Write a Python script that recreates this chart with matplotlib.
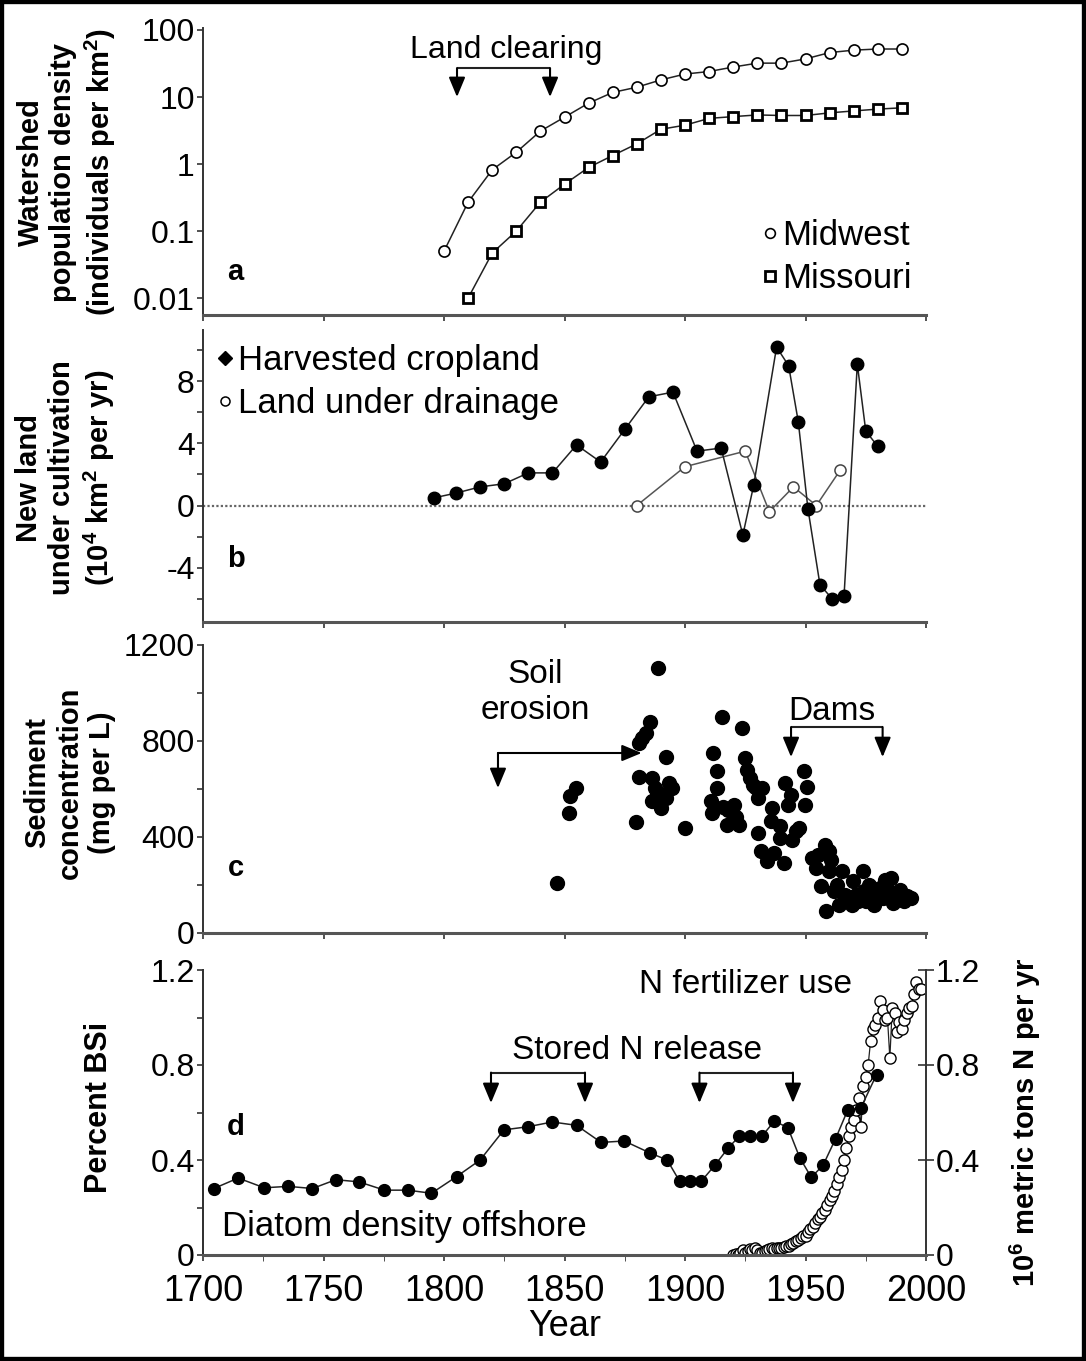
"""
Four-panel history of land use, sediment and nutrients in the Mississippi basin.

  a  watershed population density (log scale)
  b  new land under cultivation / under drainage
  c  suspended sediment concentration
  d  diatom BSi offshore, with N fertilizer use on a second axis
"""

import matplotlib.pyplot as plt
from matplotlib.lines import Line2D
from matplotlib.patches import Rectangle
from matplotlib.ticker import FixedLocator, LogLocator, MultipleLocator, NullFormatter

# ---------------------------------------------------------------------------
# Data
# ---------------------------------------------------------------------------

# a — population density (individuals per km2)
midwest_years = list(range(1800, 2000, 10))
midwest_density = [0.05, 0.27, 0.82, 1.5, 3.1, 5.0, 8.1, 11.7, 14, 18,
                   22, 24, 28, 32, 32, 37, 46, 50, 52, 52]
missouri_years = list(range(1810, 2000, 10))
missouri_density = [0.01, 0.047, 0.10, 0.27, 0.5, 0.89, 1.34, 2.0, 3.3, 3.8,
                    4.8, 5.1, 5.4, 5.3, 5.3, 5.8, 6.2, 6.6, 6.9]

# b — new land (10^4 km2 per yr)
harvest_years = [1796, 1805, 1815, 1825, 1835, 1845, 1855, 1865, 1875, 1885,
                 1895, 1905, 1915, 1924, 1928.5, 1938, 1943, 1947, 1951, 1956,
                 1961, 1966, 1971.5, 1975, 1980]
harvest_area = [0.5, 0.8, 1.2, 1.4, 2.1, 2.1, 3.9, 2.8, 4.9, 7.0,
                7.3, 3.5, 3.7, -1.9, 1.3, 10.2, 9.0, 5.4, -0.2, -5.1,
                -6.0, -5.8, 9.1, 4.8, 3.8]
drain_years = [1880, 1900, 1925, 1935, 1945, 1954.5, 1964.5]
drain_area = [0.0, 2.5, 3.5, -0.4, 1.2, 0.0, 2.3]

# c — sediment concentration (mg per L)
sed_years = [1846.7, 1851.7, 1852.4, 1854.6, 1879.8, 1880.9, 1882.0, 1883.8,
             1885.4, 1888.8, 1892.1, 1880.9, 1886.5, 1887.6, 1889.9, 1886.5,
             1888.3, 1891.0, 1893.3, 1894.4, 1892.1, 1900.0, 1910.8, 1911.8,
             1913.4, 1913.4, 1911.2, 1915.2, 1915.7, 1917.9, 1917.5, 1920.2,
             1921.3, 1922.5, 1923.6, 1924.7, 1925.8, 1927.0, 1928.1, 1930.3,
             1929.2, 1931.9, 1930.3, 1931.5, 1934.1, 1935.5, 1935.9, 1937.1,
             1939.4, 1939.4, 1941.0, 1941.6, 1942.7, 1943.8, 1944.5, 1946.0,
             1947.2, 1949.4, 1950.6, 1949.9, 1952.8, 1955.0, 1954.2, 1956.3,
             1958.0, 1959.6, 1960.7, 1959.6, 1958.4, 1961.8, 1962.9, 1965.2,
             1966.3, 1964.0, 1967.4, 1969.7, 1970.8, 1971.9, 1973.7, 1974.2,
             1975.3, 1976.4, 1977.5, 1978.6, 1980.9, 1982.0, 1983.1, 1984.3,
             1985.4, 1986.5, 1987.6, 1989.4, 1991.0, 1992.1, 1993.9, 1979.8,
             1969.2]
sed_conc = [208, 499, 569, 603, 462, 790, 814, 832,
            878, 1105, 735, 648, 645, 603, 520, 548,
            575, 575, 624, 603, 562, 437, 548, 749,
            675, 603, 499, 901, 527, 513, 451, 534,
            485, 451, 853, 728, 680, 645, 617, 562,
            610, 603, 416, 340, 298, 465, 520, 333,
            444, 395, 291, 624, 534, 575, 388, 423,
            437, 673, 610, 534, 312, 326, 270, 194,
            368, 340, 305, 257, 90, 173, 201, 257,
            160, 118, 146, 215, 160, 132, 257, 173,
            132, 201, 160, 118, 187, 146, 222, 180,
            229, 125, 160, 180, 132, 153, 146, 146,
            118]

# d — biogenic silica (%) and N fertilizer use (10^6 t N per yr)
bsi_years = [1704.5, 1714.6, 1725.4, 1735.3, 1745.4, 1755.1, 1764.7, 1775.3,
             1784.9, 1794.8, 1805.2, 1815.0, 1824.9, 1834.8, 1844.9, 1855.0,
             1865.2, 1874.8, 1885.4, 1892.6, 1897.8, 1902.2, 1906.7, 1912.4,
             1917.9, 1922.5, 1927.0, 1931.9, 1937.1, 1942.7, 1947.6, 1952.4,
             1957.3, 1962.5, 1967.5, 1973.0, 1979.5]
bsi_pct = [0.28, 0.324, 0.283, 0.289, 0.28, 0.317, 0.308, 0.273,
           0.273, 0.26, 0.33, 0.40, 0.527, 0.54, 0.56, 0.546,
           0.474, 0.48, 0.43, 0.40, 0.31, 0.31, 0.31, 0.378,
           0.45, 0.50, 0.50, 0.50, 0.564, 0.536, 0.41, 0.327,
           0.378, 0.49, 0.61, 0.62, 0.76]

fert_years = list(range(1920, 1999))
fert_n = [0.0, 0.005, 0.0, 0.01, 0.02, 0.01, 0.015, 0.025, 0.02, 0.03,
          0.02, 0.01, 0.01, 0.015, 0.02, 0.025, 0.03, 0.025, 0.03, 0.03,
          0.03, 0.032, 0.036, 0.04, 0.045, 0.05, 0.058, 0.065, 0.072, 0.078,
          0.08, 0.095, 0.11, 0.12, 0.135, 0.15, 0.16, 0.175, 0.19, 0.21,
          0.23, 0.25, 0.27, 0.30, 0.33, 0.36, 0.40, 0.45, 0.50, 0.54,
          0.57, 0.61, 0.66, 0.54, 0.71, 0.75, 0.80, 0.90, 0.95, 0.97,
          1.00, 1.07, 1.03, 0.99, 1.00, 0.83, 1.04, 1.02, 0.94, 0.98,
          0.95, 0.99, 1.02, 1.04, 1.05, 1.10, 1.15, 1.12, 1.12]

# ---------------------------------------------------------------------------
# Style
# ---------------------------------------------------------------------------

plt.rcParams.update({
    "font.family": ["Liberation Sans", "DejaVu Sans"],
    "mathtext.fontset": "custom",
    "mathtext.rm": "Liberation Sans",
    "mathtext.bf": "Liberation Sans:bold",
    "axes.unicode_minus": False,
    "axes.spines.top": False,
    "axes.spines.right": False,
    "axes.linewidth": 1.4,
    "axes.edgecolor": "#333333",
    "xtick.major.size": 4,
    "ytick.major.size": 4,
    "ytick.minor.size": 4,
    "xtick.minor.size": 4,
    "xtick.color": "#333333",
    "ytick.color": "#333333",
    "xtick.labelcolor": "black",
    "ytick.labelcolor": "black",
})

W, H = 1086, 1361
LINE = "#222222"
TICK_FS = 23
LABEL_FS = 21
NOTE_FS = 24

fig = plt.figure(figsize=(W / 100, H / 100), dpi=100)
fig.patch.set_facecolor("white")


def add_panel(top, bottom, left=203, right=926):
    """Axes placed by pixel edges."""
    ax = fig.add_axes([left / W, 1 - bottom / H, (right - left) / W, (bottom - top) / H])
    ax.set_xlim(1700, 2000)
    ax.xaxis.set_major_locator(MultipleLocator(50))
    ax.tick_params(axis="x", labelbottom=False, width=1.2)
    ax.tick_params(axis="y", labelsize=TICK_FS, width=1.2, pad=2)
    ax.tick_params(axis="y", which="minor", width=1.2)
    ax.spines["bottom"].set_linewidth(2.2)
    ax.spines["bottom"].set_color("#555555")
    return ax


def ylabel(text, x, y, fs=LABEL_FS):
    fig.text(x / W, 1 - y / H, text, rotation=90, ha="center", va="center",
             multialignment="center", fontsize=fs, fontweight="bold",
             linespacing=1.2)


def panel_letter(ax, letter, yfrac):
    ax.text(0.045, yfrac, letter, transform=ax.transAxes, fontsize=21,
            fontweight="bold", ha="center", va="center")


def bracket(ax, x0, x1, y_bar, y_tip, right_down=True):
    """Horizontal bar with a down arrow at the left end and a down (or right) arrow at the right end."""
    head = dict(arrowstyle="-|>,head_length=1.2,head_width=0.5", color="black",
                lw=1.5, shrinkA=0, shrinkB=0, mutation_scale=10)
    ax.annotate("", xy=(x0, y_tip), xytext=(x0, y_bar), arrowprops=head)
    if right_down:
        ax.plot([x0, x1], [y_bar, y_bar], color=LINE, lw=1.5, solid_capstyle="butt")
        ax.annotate("", xy=(x1, y_tip), xytext=(x1, y_bar), arrowprops=head)
    else:
        ax.annotate("", xy=(x1, y_bar), xytext=(x0, y_bar), arrowprops=head)


# ---------------------------------------------------------------------------
# a — population density
# ---------------------------------------------------------------------------

ax_a = add_panel(28, 315)
ax_a.set_yscale("log")
ax_a.set_ylim(0.0056, 107)
ax_a.yaxis.set_major_locator(FixedLocator([0.01, 0.1, 1, 10, 100]))
ax_a.set_yticklabels(["0.01", "0.1", "1", "10", "100"])
ax_a.yaxis.set_minor_locator(LogLocator(base=10, subs=[5]))
ax_a.yaxis.set_minor_formatter(NullFormatter())

ax_a.plot(midwest_years, midwest_density, color=LINE, lw=1.1, marker="o", ms=8,
          mfc="white", mec="black", mew=1.2, zorder=3)
ax_a.plot(missouri_years, missouri_density, color=LINE, lw=1.1, marker="s", ms=7.5,
          mfc="white", mec="black", mew=2.0, zorder=3)

handles_a = [
    Line2D([], [], ls="none", marker="o", ms=7, mfc="white", mec="black", mew=1.2),
    Line2D([], [], ls="none", marker="s", ms=6.5, mfc="white", mec="black", mew=2.0),
]
ax_a.legend(handles_a, ["Midwest", "Missouri"], loc="lower right",
            bbox_to_anchor=(1.0, 0.02), frameon=False, fontsize=25,
            handlelength=0.45, handletextpad=0.15, labelspacing=0.3,
            borderaxespad=0.0)

bracket(ax_a, 1805.4, 1844, 27, 10)
ax_a.text(1826, 50, "Land clearing", fontsize=23, ha="center", va="center")
panel_letter(ax_a, "a", 0.151)
ylabel("Watershed\npopulation density\n(individuals per km$^{\\mathbf{2}}$)", 67, 172)

# ---------------------------------------------------------------------------
# b — new land under cultivation
# ---------------------------------------------------------------------------

ax_b = add_panel(330, 622)
ax_b.set_ylim(-7.5, 11.3)
ax_b.yaxis.set_major_locator(FixedLocator([-4, 0, 4, 8]))
ax_b.yaxis.set_minor_locator(FixedLocator([-6, -2, 2, 6, 10]))
ax_b.axhline(0, color="#666666", lw=1.6, ls=(0, (1, 1)), zorder=1)

ax_b.plot(drain_years, drain_area, color="#555555", lw=1.1, marker="o", ms=8,
          mfc="white", mec="#444444", mew=1.1, zorder=3)
ax_b.plot(harvest_years, harvest_area, color=LINE, lw=1.1, marker="o", ms=9,
          mfc="black", mec="black", zorder=4)

handles_b = [
    Line2D([], [], ls="none", marker="D", ms=7, mfc="black", mec="black"),
    Line2D([], [], ls="none", marker="o", ms=6.5, mfc="white", mec="black", mew=1.1),
]
ax_b.legend(handles_b, ["Harvested cropland", "Land under drainage"], loc="upper left",
            bbox_to_anchor=(0.0, 1.0), frameon=False, fontsize=25,
            handlelength=0.45, handletextpad=0.15, labelspacing=0.3,
            borderaxespad=0.0)
panel_letter(ax_b, "b", 0.217)
ylabel("New land\nunder cultivation\n(10$^{\\mathbf{4}}$ km$^{\\mathbf{2}}$ per yr)", 66, 478)

# ---------------------------------------------------------------------------
# c — sediment concentration
# ---------------------------------------------------------------------------

ax_c = add_panel(645, 933)
ax_c.set_ylim(0, 1200)
ax_c.yaxis.set_major_locator(MultipleLocator(400))
ax_c.yaxis.set_minor_locator(MultipleLocator(200))
ax_c.plot(sed_years, sed_conc, ls="none", marker="o", ms=10, mfc="black",
          mec="black", zorder=3, clip_on=False)

bracket(ax_c, 1822.4, 1882, 750, 604, right_down=False)
ax_c.text(1838, 1002, "Soil\nerosion", fontsize=NOTE_FS, ha="center", va="center",
          linespacing=1.2)
bracket(ax_c, 1944, 1982, 858, 733)
ax_c.text(1961, 921, "Dams", fontsize=NOTE_FS, ha="center", va="center")
panel_letter(ax_c, "c", 0.224)
ylabel("Sediment\nconcentration\n(mg per L)", 70, 783)

# ---------------------------------------------------------------------------
# d — diatoms and N fertilizer
# ---------------------------------------------------------------------------

ax_d = add_panel(970, 1255)
ax_d.set_ylim(0, 1.2)
ax_d.yaxis.set_major_locator(FixedLocator([0, 0.4, 0.8, 1.2]))
ax_d.set_yticklabels(["0", "0.4", "0.8", "1.2"])
ax_d.yaxis.set_minor_locator(FixedLocator([0.2, 0.6, 1.0]))
ax_d.xaxis.set_minor_locator(MultipleLocator(25))
ax_d.tick_params(axis="x", labelbottom=True, labelsize=26, pad=10)

ax_n = ax_d.twinx()
ax_n.set_ylim(0, 1.2)
ax_n.spines["right"].set_visible(True)
ax_n.spines["right"].set_linewidth(1.4)
ax_n.spines["right"].set_color("#333333")
ax_n.yaxis.set_major_locator(FixedLocator([0, 0.4, 0.8, 1.2]))
ax_n.set_yticklabels(["0", "0.4", "0.8", "1.2"])
ax_n.tick_params(axis="y", direction="inout", length=12, width=1.2,
                 labelsize=TICK_FS, pad=1)

ax_n.plot(fert_years, fert_n, color=LINE, lw=0.9, marker="o", ms=8,
          mfc="white", mec="black", mew=1.0, zorder=2)
ax_d.set_zorder(ax_n.get_zorder() + 1)
ax_d.patch.set_visible(False)
ax_d.plot(bsi_years, bsi_pct, color=LINE, lw=1.1, marker="o", ms=8.5,
          mfc="black", mec="black", zorder=3)

bracket(ax_d, 1819.5, 1858.5, 0.768, 0.64)
bracket(ax_d, 1906, 1944.8, 0.768, 0.64)
ax_d.text(1880, 0.863, "Stored N release", fontsize=NOTE_FS, ha="center", va="center")
ax_d.text(1925, 1.137, "N fertilizer use", fontsize=NOTE_FS, ha="center", va="center")
ax_d.text(1707.9, 0.122, "Diatom density offshore", fontsize=25, ha="left", va="center")
ax_d.set_xlabel("Year", fontsize=26, labelpad=0)
panel_letter(ax_d, "d", 0.448)
ylabel("Percent BSi", 99, 1107, fs=22)
ylabel("10$^{\\mathbf{6}}$ metric tons N per yr", 1025, 1122)

# outer frame
fig.patches.append(Rectangle((0, 0), 1, 1, transform=fig.transFigure, fill=False,
                             ec="black", lw=6, zorder=10))

fig.savefig("out.png", dpi=100)
